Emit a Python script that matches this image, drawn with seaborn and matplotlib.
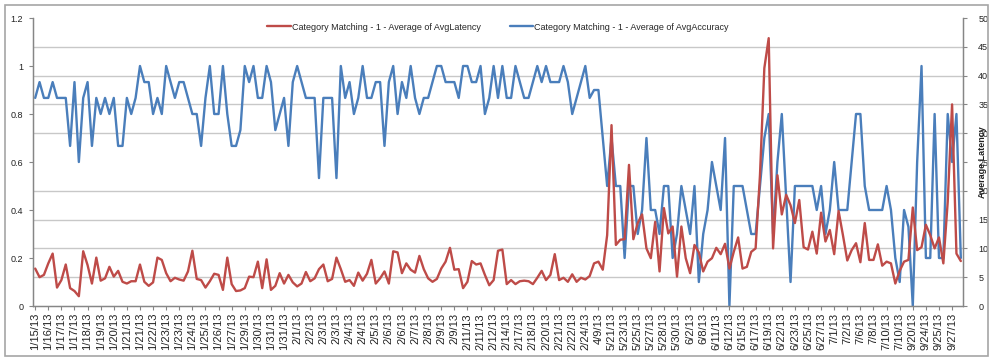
import numpy as np
import pandas as pd
import seaborn as sns
import matplotlib
matplotlib.use("Agg")
from matplotlib import pyplot as plt
from matplotlib.patches import Rectangle
from matplotlib.ticker import FixedLocator

# values, one per category (213 days)
accuracy = [
    .867, .933, .867, .867, .933, .867, .867, .867, .667, .933, .6, .867, .933, .667, .867, .8, .867, .8, .867, .667,
    .667, .867, .8, .867, 1, .933, .933, .8, .867, .8, 1, .933, .867, .933, .933, .867, .8, .8, .667, .867,
    1, .8, .8, 1, .8, .667, .667, .733, 1, .933, 1, .867, .867, 1, .933, .733, .8, .867, .667, .933,
    1, .933, .867, .867, .867, .533, .867, .867, .867, .533, 1, .867, .933, .8, .867, 1, .867, .867, .933, .933,
    .667, .933, 1, .8, .933, .867, 1, .867, .8, .867, .867, .933, 1, 1, .933, .933, .933, .867, 1, 1,
    .933, .933, 1, .8, .867, 1, .867, 1, .867, .867, 1, .933, .867, .867, .933, 1, .933, 1, .933, .933,
    .933, 1, .933, .8, .867, .933, 1, .867, .9, .9, .7, .5, .7, .5, .5, .2, .5, .5, .3, .4,
    .7, .4, .4, .3, .5, .5, .2, .3, .5, .4, .3, .5, .1, .3, .4, .6, .5, .4, .7, 0,
    .5, .5, .5, .4, .3, .3, .5, .7, .8, .3, .6, .8, .45, .1, .5, .5, .5, .5, .5, .4,
    .5, .3, .4, .6, .4, .4, .4, .6, .8, .8, .5, .4, .4, .4, .4, .5, .4, .2, .1, .4,
    .33, 0, .6, 1, .2, .2, .8, .2, .2, .8, .6, .8, .2,
]

latency = [
    6.5, 5.0, 5.4, 7.4, 9.1, 3.2, 4.5, 7.2, 3.1, 2.6, 1.7, 9.5, 7.1, 3.9, 8.4, 4.4, 4.8, 6.8, 5.1, 6.1,
    4.2, 3.9, 4.3, 4.3, 7.2, 4.2, 3.5, 4.1, 8.4, 8.0, 5.7, 4.3, 4.9, 4.6, 4.4, 6.0, 9.6, 4.7, 4.5, 3.2,
    4.3, 5.6, 5.4, 2.8, 8.4, 3.8, 2.6, 2.7, 3.1, 5.1, 5.0, 7.7, 3.1, 8.1, 2.8, 3.5, 5.7, 3.9, 5.4, 4.1,
    3.4, 3.9, 5.9, 4.3, 4.8, 6.4, 7.2, 4.3, 4.7, 8.4, 6.4, 4.2, 4.5, 3.5, 5.8, 4.4, 5.6, 8.0, 3.9, 4.8,
    6.0, 3.9, 9.5, 9.3, 5.7, 7.4, 6.3, 5.8, 8.7, 6.4, 4.8, 4.2, 4.7, 6.5, 7.7, 10.1, 6.3, 6.4, 3.1, 4.2,
    7.8, 7.2, 7.4, 5.4, 3.6, 4.5, 9.6, 9.8, 3.8, 4.5, 3.8, 4.3, 4.4, 4.3, 3.8, 4.9, 6.1, 4.5, 5.4, 9.0,
    4.5, 4.9, 4.2, 5.5, 4.2, 4.9, 4.6, 5.2, 7.4, 7.7, 6.3, 12.3, 31.4, 10.6, 11.5, 11.6, 24.5, 11.6, 14.4, 15.9,
    10.0, 8.3, 14.6, 6.0, 17.0, 12.6, 13.8, 5.1, 13.8, 8.3, 5.7, 10.6, 9.3, 6.0, 7.7, 8.3, 10.1, 9.0, 10.8, 6.5,
    9.4, 11.9, 6.5, 6.8, 9.4, 10.0, 22.7, 41.3, 46.5, 10.0, 22.7, 15.9, 19.3, 17.5, 14.4, 18.4, 10.2, 9.8, 12.9, 9.1,
    16.2, 11.2, 13.2, 9.0, 16.5, 12.3, 7.9, 9.7, 10.9, 7.6, 14.4, 8.0, 8.0, 10.7, 7.0, 7.7, 7.4, 3.9, 6.1, 7.7,
    8.0, 17.1, 9.7, 10.2, 14.1, 12.3, 10.0, 11.9, 7.4, 18.1, 35.0, 9.1, 7.8,
]

# every third category is labelled on the x axis
tick_labels = [
    '1/15/13', '1/16/13', '1/17/13', '1/17/13', '1/18/13', '1/19/13', '1/20/13', '1/21/13', '1/21/13', '1/22/13',
    '1/23/13', '1/23/13', '1/24/13', '1/25/13', '1/26/13', '1/27/13', '1/29/13', '1/30/13', '1/31/13', '1/31/13',
    '2/1/13', '2/2/13', '2/3/13', '2/3/13', '2/4/13', '2/4/13', '2/5/13', '2/6/13', '2/6/13', '2/7/13',
    '2/8/13', '2/9/13', '2/9/13', '2/11/13', '2/11/13', '2/12/13', '2/14/13', '2/17/13', '2/18/13', '2/20/13',
    '2/21/13', '2/22/13', '2/24/13', '4/9/13', '5/21/13', '5/23/13', '5/25/13', '5/27/13', '5/28/13', '5/30/13',
    '6/2/13', '6/8/13', '6/11/13', '6/12/13', '6/15/13', '6/17/13', '6/19/13', '6/22/13', '6/23/13', '6/25/13',
    '6/27/13', '7/1/13', '7/2/13', '7/6/13', '7/8/13', '7/10/13', '7/10/13', '9/20/13', '9/24/13', '9/25/13',
    '9/27/13',
]

RED = '#BE4B48'
BLUE = '#4A7EBB'
GRID = '#c8c8c8'
AXIS = '#868686'

df = pd.DataFrame({'idx': np.arange(len(accuracy)), 'accuracy': accuracy, 'latency': latency})

sns.set_theme(style="white")
plt.rcParams['font.family'] = ['Liberation Sans', 'DejaVu Sans']

fig = plt.figure(figsize=(10, 3.61), dpi=100)
ax = fig.add_axes([0.033, 55 / 361, 0.93, 288 / 361])
ax2 = ax.twinx()

sns.lineplot(data=df, x='idx', y='accuracy', ax=ax, color=BLUE, linewidth=1.7, legend=False)
sns.lineplot(data=df, x='idx', y='latency', ax=ax2, color=RED, linewidth=1.7, legend=False)

n = len(df)
ax.set_xlim(-0.5, n - 0.5)
ax.set_ylim(0, 1.2)
ax2.set_ylim(0, 50)

# gridlines follow the right axis (every 5) but sit behind both lines
ax.yaxis.set_minor_locator(FixedLocator(np.linspace(0, 1.2, 11)))
ax.grid(which='minor', axis='y', color=GRID, linewidth=1.0)
ax.grid(which='major', visible=False)
ax.set_axisbelow(True)

ax.set_yticks([0, 0.2, 0.4, 0.6, 0.8, 1.0, 1.2])
ax.set_yticklabels(['0', '0.2', '0.4', '0.6', '0.8', '1', '1.2'])
ax2.set_yticks(np.arange(0, 51, 5))
ax.set_xticks(df['idx'][::3])
ax.set_xticklabels(tick_labels, rotation=90)

ax.tick_params(axis='y', which='major', labelsize=6.5, length=3, width=0.8, color=AXIS, pad=4, labelcolor='#222222', left=True)
ax.tick_params(axis='y', which='minor', length=0)
ax.tick_params(axis='x', labelsize=8, length=3, width=0.8, color=AXIS, pad=2, labelcolor='#222222', bottom=True)
ax2.tick_params(axis='y', labelsize=6.5, length=3, width=0.8, color=AXIS, pad=8, labelcolor='#222222', right=True)

ax.set_xlabel('')
ax.set_ylabel('')
ax2.set_xlabel('')
ax2.set_ylabel('Average Latency', fontsize=6.5, fontweight='bold', color='#222222')
ax2.yaxis.set_label_coords(1.016, 0.5)

for a in (ax, ax2):
    for side in ('left', 'right', 'bottom'):
        a.spines[side].set_color(AXIS)
        a.spines[side].set_linewidth(0.9)
    a.spines['top'].set_visible(False)

handles = [ax2.get_lines()[0], ax.get_lines()[0]]
labels = ['Category Matching - 1 - Average of AvgLatency', 'Category Matching - 1 - Average of AvgAccuracy']
ax2.legend(handles, labels, loc='upper center', bbox_to_anchor=(0.5, 1.0), ncol=2, frameon=False,
           fontsize=6.5, handlelength=2.6, handletextpad=0.1, columnspacing=3.2, borderaxespad=0.1)

# chart area border
fig.patches.append(Rectangle((0.005, 5 / 361), 0.983, 351 / 361, transform=fig.transFigure,
                             fill=False, edgecolor='#a6a6a6', linewidth=1.2))

fig.savefig('out.png', dpi=100)
